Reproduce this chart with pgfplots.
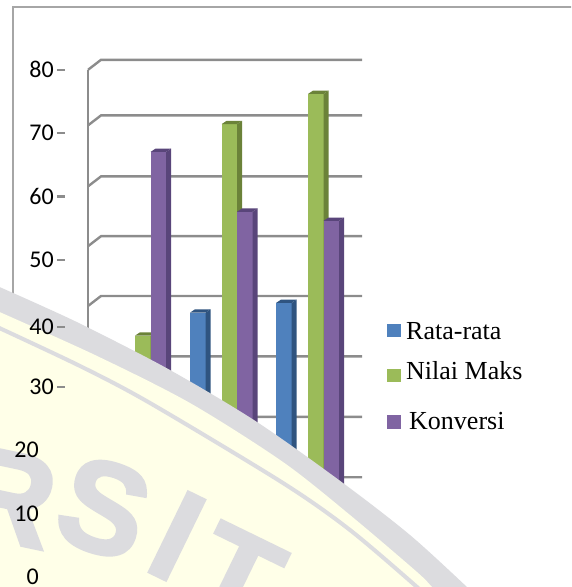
\documentclass[border=0pt]{standalone}
\usepackage{pgfplots}
\pgfplotsset{compat=1.18}
\usepackage{fontspec}
\setmainfont{Carlito}
\newfontfamily\legfont{Liberation Serif}
\newfontfamily\wmfont[FakeBold=2]{Liberation Sans Bold}

\definecolor{gridgray}{HTML}{8C8C8C}
\definecolor{framegray}{HTML}{A6A6A6}
\definecolor{bluef}{HTML}{4F81BD}
\definecolor{blues}{HTML}{2F5480}
\definecolor{greenf}{HTML}{9BBB59}
\definecolor{greens}{HTML}{6B8239}
\definecolor{purplef}{HTML}{8064A2}
\definecolor{purples}{HTML}{59457A}
\definecolor{wmgray}{HTML}{DCDCDF}
\definecolor{wmyellow}{HTML}{FFFFE8}

% x left edge, value, front colour, dark colour
\newcommand{\threedbar}[4]{%
  \pgfmathsetmacro\xr{#1+15.5}%
  \pgfmathsetmacro\xd{#1+20.5}%
  \pgfmathsetmacro\xt{#1+5}%
  \pgfmathsetmacro\vt{#2+0.55}%
  \addplot[fill=#3,draw=none] coordinates {(#1,0)(#1,#2)(\xr,#2)(\xr,0)} --cycle;
  \addplot[fill=#4,draw=none] coordinates {(\xr,0)(\xr,#2)(\xd,\vt)(\xd,0.55)} --cycle;
  \addplot[fill=#4,draw=none] coordinates {(#1,#2)(\xt,\vt)(\xd,\vt)(\xr,#2)} --cycle;
}
\newcommand{\gridrow}[1]{%
  \pgfmathsetmacro\vb{#1+1.656}%
  \addplot[gridgray,line width=2.4pt] coordinates {(88,#1)(101,\vb)(362,\vb)};
}
\newcommand{\wmletter}[4]{%
  \node[rotate=#3,text=wmgray,inner sep=0pt] at (axis cs:#1,#2) {\wmfont\fontsize{130}{130}\selectfont #4};
}

\pgfplotsset{page/.style={
  at={(0pt,0pt)},anchor=south west,scale only axis,
  width=571pt,height=587pt,hide axis,clip=true}}

\begin{document}
\begin{tikzpicture}
\useasboundingbox (0,0) rectangle (571pt,587pt);

% bars and walls, y in chart values
\begin{axis}[page,xmin=0,xmax=571,ymin=-6.62,ymax=90.56]
  \addplot[gridgray,line width=2.4pt] coordinates {(88,0)(88,79)};
  \gridrow{0}\gridrow{9.9}\gridrow{19.9}\gridrow{29.9}\gridrow{39.9}
  \gridrow{49.8}\gridrow{59.7}\gridrow{69.8}\gridrow{79.0}
  \threedbar{103}{30}{bluef}{blues}
  \threedbar{135}{35}{greenf}{greens}
  \threedbar{150.5}{65.4}{purplef}{purples}
  \threedbar{190}{38.8}{bluef}{blues}
  \threedbar{221.5}{70}{greenf}{greens}
  \threedbar{237}{55.5}{purplef}{purples}
  \threedbar{276}{40.4}{bluef}{blues}
  \threedbar{308}{75}{greenf}{greens}
  \threedbar{323.5}{54}{purplef}{purples}
\end{axis}

% frame, watermark and legend, in picture pixels
\begin{axis}[page,xmin=0,xmax=571,ymin=0,ymax=587,y dir=reverse]
  \addplot[framegray,line width=1.5pt] coordinates {(13,300)(13,7)(575,7)};
  \addplot[fill=wmgray,draw=none,smooth] coordinates {(-5,285)(40,305)(87,327)(170,370)(257,422)(343,483)(410,535)(467,587)(480,600)(-5,600)} --cycle;
  \addplot[fill=wmyellow,draw=none,smooth] coordinates {(-5,310)(95,355)(190,403)(283,462)(350,515)(417,572)(432,587)(445,600)(-5,600)} --cycle;
  \addplot[wmgray,line width=4pt,smooth] coordinates {(-5,326)(80,366)(150,403)(283,483)(350,530)(417,587)(430,600)};
  \wmletter{8}{497}{-12}{R}
  \wmletter{104}{508}{-18}{S}
  \wmletter{177}{536}{-26}{I}
  \wmletter{236}{577}{-26}{T}
  \addplot[fill=bluef,draw=none] coordinates {(387,324)(400.5,324)(400.5,337)(387,337)} --cycle;
  \addplot[fill=greenf,draw=none] coordinates {(387,369)(400.5,369)(400.5,382)(387,382)} --cycle;
  \addplot[fill=purplef,draw=none] coordinates {(387,415)(400.5,415)(400.5,429)(387,429)} --cycle;
  \node[anchor=west,inner sep=0pt] at (axis cs:406,331) {\legfont\fontsize{26}{28}\selectfont Rata-rata};
  \node[anchor=west,inner sep=0pt] at (axis cs:406,371) {\legfont\fontsize{26}{28}\selectfont Nilai Maks};
  \node[anchor=west,inner sep=0pt] at (axis cs:409,421) {\legfont\fontsize{26}{28}\selectfont Konversi};
\end{axis}

% value axis on top of the watermark
\begin{axis}[
  at={(65pt,0pt)},anchor=south west,scale only axis,
  width=506pt,height=587pt,
  xmin=0,xmax=1,ymin=-1.577,ymax=91.01,
  axis line style={draw=none},
  axis y line=left,axis x line=none,
  ytick={30,39.4,50,60,70,80},
  yticklabels={30,40,50,60,70,80},
  ytick style={gridgray,line width=2.4pt},
  major tick length=8pt,
  tick align=outside,
  yticklabel style={font=\fontsize{24}{26}\selectfont,inner sep=0pt,xshift=-3pt},
  /pgf/number format/assume math mode=true,
  extra y ticks={0,10,20},
  extra y tick labels={0,10,20},
  extra y tick style={major tick length=0pt,yticklabel style={xshift=-23pt}},
]
\end{axis}
\end{tikzpicture}
\end{document}
